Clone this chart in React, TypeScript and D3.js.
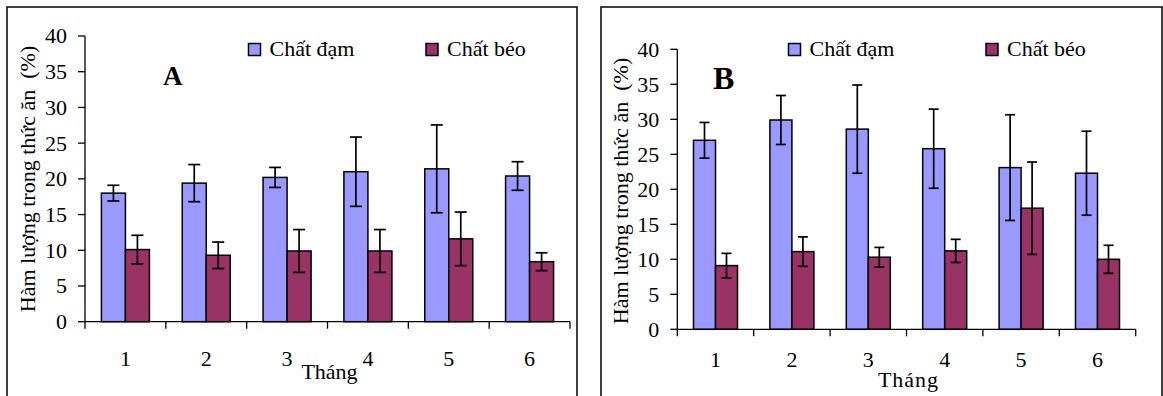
import React from "react";
import * as d3 from "d3";

const months = ["1", "2", "3", "4", "5", "6"];
const yTicks = [0, 5, 10, 15, 20, 25, 30, 35, 40];
const seriesNames = ["Chất đạm", "Chất béo"];
const seriesColors = ["#9999FF", "#993366"];

const proteinA = [18.0, 19.4, 20.2, 21.0, 21.4, 20.4];
const proteinAErr = [1.1, 2.6, 1.4, 4.85, 6.15, 2.0];
const fatA = [10.1, 9.3, 9.9, 9.9, 11.6, 8.4];
const fatAErr = [2.0, 1.85, 3.0, 3.0, 3.75, 1.25];

const proteinB = [27.0, 29.9, 28.6, 25.8, 23.1, 22.3];
const proteinBErr = [2.55, 3.5, 6.3, 5.65, 7.55, 6.0];
const fatB = [9.1, 11.1, 10.3, 11.2, 17.3, 10.0];
const fatBErr = [1.75, 2.1, 1.4, 1.65, 6.6, 2.0];

const FONT = "'Liberation Serif', 'Times New Roman', serif";

type PanelCfg = {
  label: string;
  frame: [number, number];
  x0: number;
  x1: number;
  yZero: number;
  yTop: number;
  pad: number;
  cap: number;
  labelX: number;
  labelY: number;
  labelSize: number;
  ylabX: number;
  ylabY: number;
  xlabY: number;
  xlabSpacing: number;
  tickLabY: number;
  legendX: [number, number];
  values: number[][];
  errs: number[][];
};

const panels: PanelCfg[] = [
  {
    label: "A",
    frame: [7, 577],
    x0: 85,
    x1: 570,
    yZero: 321.7,
    yTop: 36,
    pad: 0.406,
    cap: 6,
    labelX: 163,
    labelY: 85,
    labelSize: 27,
    ylabX: 35,
    ylabY: 179,
    xlabY: 379,
    xlabSpacing: 0,
    tickLabY: 366,
    legendX: [248.5, 426],
    values: [proteinA, fatA],
    errs: [proteinAErr, fatAErr],
  },
  {
    label: "B",
    frame: [601, 1162],
    x0: 677.3,
    x1: 1135.7,
    yZero: 329.3,
    yTop: 49.3,
    pad: 0.424,
    cap: 5,
    labelX: 713,
    labelY: 89,
    labelSize: 32,
    ylabX: 628,
    ylabY: 191,
    xlabY: 387,
    xlabSpacing: 1,
    tickLabY: 367,
    legendX: [788.5, 986],
    values: [proteinB, fatB],
    errs: [proteinBErr, fatBErr],
  },
];

function Panel({ p }: { p: PanelCfg }) {
  const y = d3.scaleLinear().domain([0, 40]).range([p.yZero, p.yTop]);
  const x = d3
    .scaleBand<string>()
    .domain(months)
    .range([p.x0, p.x1])
    .paddingInner(p.pad)
    .paddingOuter(p.pad / 2);
  const xs = d3
    .scaleBand<number>()
    .domain([0, 1])
    .range([0, x.bandwidth()]);
  const step = x.step();
  return (
    <g>
      <path
        d={`M${p.frame[0]},400V7H${p.frame[1]}V400`}
        fill="none"
        stroke="#000"
        strokeWidth={1.5}
      />
      {/* bars */}
      {p.values.map((vals, si) =>
        vals.map((v, i) => {
          const bx = (x(months[i]) as number) + (xs(si) as number);
          return (
            <rect
              key={`b${si}-${i}`}
              x={bx}
              y={y(v)}
              width={xs.bandwidth()}
              height={y(0) - y(v)}
              fill={seriesColors[si]}
              stroke="#000"
              strokeWidth={1.5}
            />
          );
        })
      )}
      {/* error bars */}
      {p.values.map((vals, si) =>
        vals.map((v, i) => {
          const cx =
            (x(months[i]) as number) + (xs(si) as number) + xs.bandwidth() / 2;
          const e = p.errs[si][i];
          const t = y(v + e);
          const b = y(v - e);
          return (
            <g key={`e${si}-${i}`} stroke="#000" strokeWidth={1.7}>
              <line x1={cx} x2={cx} y1={t} y2={b} />
              <line x1={cx - p.cap} x2={cx + p.cap} y1={t} y2={t} />
              <line x1={cx - p.cap} x2={cx + p.cap} y1={b} y2={b} />
            </g>
          );
        })
      )}
      {/* y axis */}
      <line
        x1={p.x0}
        x2={p.x0}
        y1={y(0)}
        y2={y(40)}
        stroke="#000"
        strokeWidth={1.3}
      />
      {yTicks.map((t) => (
        <g key={`yt${t}`}>
          <line
            x1={p.x0 - 7}
            x2={p.x0}
            y1={y(t)}
            y2={y(t)}
            stroke="#000"
            strokeWidth={1.3}
          />
          <text
            x={p.x0 - 18}
            y={y(t)}
            dy="0.34em"
            textAnchor="end"
            fontFamily={FONT}
            fontSize={22}
            fill="#000"
          >
            {t}
          </text>
        </g>
      ))}
      {/* x axis */}
      <line
        x1={p.x0}
        x2={p.x1}
        y1={y(0)}
        y2={y(0)}
        stroke="#000"
        strokeWidth={1.3}
      />
      {d3.range(months.length + 1).map((i) => (
        <line
          key={`xt${i}`}
          x1={p.x0 + i * step}
          x2={p.x0 + i * step}
          y1={y(0)}
          y2={y(0) + 7}
          stroke="#000"
          strokeWidth={1.3}
        />
      ))}
      {months.map((m) => (
        <text
          key={`xl${m}`}
          x={(x(m) as number) + x.bandwidth() / 2}
          y={p.tickLabY}
          textAnchor="middle"
          fontFamily={FONT}
          fontSize={22}
        >
          {m}
        </text>
      ))}
      <text
        x={(p.x0 + p.x1) / 2 + 2}
        y={p.xlabY}
        textAnchor="middle"
        fontFamily={FONT}
        fontSize={22}
        letterSpacing={p.xlabSpacing}
      >
        Tháng
      </text>
      <text
        transform={`translate(${p.ylabX},${p.ylabY}) rotate(-90)`}
        textAnchor="middle"
        fontFamily={FONT}
        fontSize={22}
        style={{ whiteSpace: "pre" }}
      >
        {"Hàm lượng trong thức ăn  (%)"}
      </text>
      <text
        x={p.labelX}
        y={p.labelY}
        fontFamily={FONT}
        fontWeight="bold"
        fontSize={p.labelSize}
      >
        {p.label}
      </text>
      {/* legend */}
      {seriesNames.map((n, si) => (
        <g key={`lg${si}`}>
          <rect
            x={p.legendX[si]}
            y={43.5}
            width={12}
            height={12}
            fill={seriesColors[si]}
            stroke="#000"
            strokeWidth={1.5}
          />
          <text
            x={p.legendX[si] + 21}
            y={56}
            fontFamily={FONT}
            fontSize={22}
          >
            {n}
          </text>
        </g>
      ))}
    </g>
  );
}

export default function App() {
  return (
    <svg
      width={1163}
      height={396}
      style={{ position: "absolute", left: 0, top: 0, background: "#fff" }}
    >
      <rect x={0} y={0} width={1163} height={396} fill="#fff" />
      {panels.map((p) => (
        <Panel key={p.label} p={p} />
      ))}
    </svg>
  );
}
